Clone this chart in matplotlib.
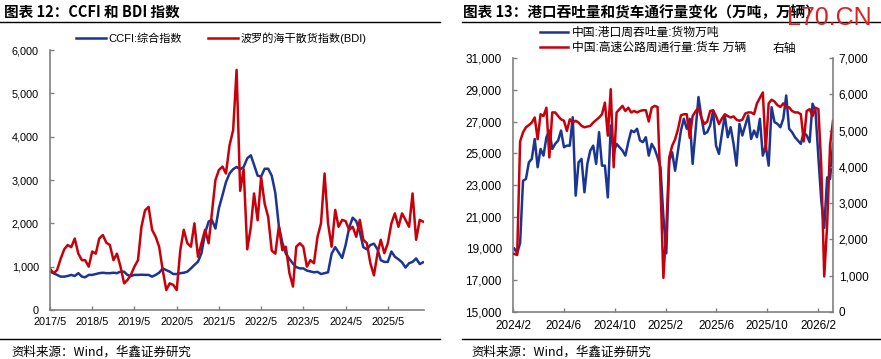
import matplotlib
matplotlib.use("Agg")
import matplotlib.pyplot as plt
import matplotlib.dates as mdates
from matplotlib.lines import Line2D
from matplotlib.ticker import FuncFormatter
import pandas as pd

plt.rcParams['font.family'] = ['Liberation Sans', 'Noto Sans CJK SC', 'DejaVu Sans']
plt.rcParams['axes.unicode_minus'] = False

BLUE = '#1b3593'
RED = '#c8000b'
GRAY = '#808080'

# ---- chart 12: CCFI / BDI, monthly 2017/5 - 2026/3
ccfi = [885, 850, 810, 770, 770, 785, 810, 785,
        850, 770, 755, 810, 810, 830, 850, 860, 850, 850, 860, 850,
        885, 885, 810, 785, 810, 810, 815, 810, 810, 770, 810, 860,
        960, 920, 885, 830, 830, 850, 860, 885, 960, 1040, 1115, 1310,
        1770, 2040, 2080, 1880, 2350, 2650, 2950, 3150, 3250, 3300, 3250, 3300,
        3500, 3570, 3350, 3100, 3080, 3260, 3260, 3100, 2700, 1950, 1550, 1300,
        1180, 1070, 990, 960, 960, 910, 890, 870, 880, 830, 850, 870,
        1300, 1450, 1330, 1200, 1500, 1900, 2130, 2050, 1800, 1450, 1400, 1500,
        1530, 1400, 1150, 1110, 1110, 1350, 1230, 1170, 1100, 980, 1080, 1110,
        1190, 1060, 1100]
bdi = [950, 850, 920, 1180, 1400, 1500, 1450, 1650,
       1300, 1150, 1150, 1000, 1350, 1300, 1650, 1730, 1550, 1500, 1150, 1300,
       1000, 615, 690, 810, 1000, 1150, 1920, 2300, 2380, 1850, 1690, 1460,
       920, 460, 615, 580, 460, 1380, 1850, 1540, 1460, 2000, 1230, 1540,
       1850, 1540, 2230, 3000, 3230, 3310, 3150, 3800, 4150, 5540, 2750, 3250,
       1400, 1910, 2690, 2070, 3070, 2450, 2150, 1370, 1300, 1920, 1380, 1460,
       850, 540, 1460, 1540, 1460, 1000, 1150, 1080, 1690, 2000, 3150, 2000,
       1460, 2310, 1920, 2080, 2050, 1850, 1920, 1690, 2080, 1620, 1540, 1080,
       800, 1310, 1620, 1310, 1540, 2000, 2230, 1920, 2230, 2080, 1920, 2690,
       1620, 2080, 2040]
left_start = '2017-05-01'
left_ticks = ['2017-05-01', '2018-05-01', '2019-05-01', '2020-05-01', '2021-05-01',
              '2022-05-01', '2023-05-01', '2024-05-01', '2025-05-01']
left_ticklabels = ['2017/5', '2018/5', '2019/5', '2020/5', '2021/5',
                   '2022/5', '2023/5', '2024/5', '2025/5']

# ---- chart 13: weekly port throughput (left axis) and truck traffic (right axis)
port = [19000, 18700, 19350, 23270, 23380, 24430, 24640, 25900, 24120, 25270,
        24850, 26010, 26430, 25270, 25590, 25800, 26430, 25380, 25480, 25480,
        27270, 22330, 24430, 24640, 22540, 24330, 25170, 25480, 24330, 26330,
        24220, 24220, 22220, 26750, 25060, 25590, 25380, 25170, 24850, 25700,
        26430, 26330, 26540, 25800, 25700, 26010, 24850, 25590, 25270, 24750,
        24120, 21000, 18700, 24540, 25060, 23900, 25170, 26430, 27170, 26540,
        27170, 24330, 26430, 28540, 27270, 26220, 26330, 26750, 27690, 25480,
        24960, 26220, 27380, 26010, 26640, 25590, 24220, 26850, 26120, 26750,
        27380, 25900, 26430, 26010, 27170, 24850, 25480, 24220, 27900, 26960,
        26850, 26640, 27170, 28640, 26540, 26330, 26010, 25800, 25590, 26330,
        26120, 25700, 28120, 27690, 24750, 22000, 20300, 23480, 23380, 25590]
trucks = [1600, 1570, 4700, 4950, 5090, 5150, 5220, 5360, 4760, 5450,
          5400, 5630, 4260, 5500, 5500, 5400, 5310, 5270, 4990, 5310,
          5220, 5270, 5220, 5130, 5090, 5110, 5130, 5220, 5290, 5360,
          5450, 5770, 4860, 6140, 3990, 5500, 5590, 5680, 5540, 5630,
          5500, 5540, 5500, 5540, 5560, 5560, 5250, 5630, 5680, 5650,
          3500, 940, 2300, 4260, 4580, 4760, 5040, 5420, 5450, 5450,
          4800, 5400, 5530, 5630, 5350, 5180, 5250, 5540, 5560, 5400,
          5180, 5330, 5450, 5400, 5360, 5390, 5300, 5270, 5300, 5470,
          5500, 5500, 5450, 5750, 5900, 6050, 4450, 5750, 5850, 5800,
          5700, 5650, 5750, 5640, 5640, 5540, 5500, 5500, 5450, 4700,
          5540, 5590, 5400, 5630, 5590, 4000, 980, 2400, 4600, 5270]
right_start = '2024-02-04'
right_ticks = ['2024-02-01', '2024-06-01', '2024-10-01', '2025-02-01',
               '2025-06-01', '2025-10-01', '2026-02-01']
right_ticklabels = ['2024/2', '2024/6', '2024/10', '2025/2', '2025/6', '2025/10', '2026/2']

W, H = 881, 359
fig = plt.figure(figsize=(W / 100, H / 100), dpi=100)


def fx(px):
    return px / W


def fy(py):
    return 1 - py / H


thousands = FuncFormatter(lambda v, p: f'{v:,.0f}')


def style_axis(ax, sides, size):
    for s in ['top', 'right', 'left', 'bottom']:
        ax.spines[s].set_visible(s in sides)
        ax.spines[s].set_color(GRAY)
        ax.spines[s].set_linewidth(1.2)
    ax.tick_params(direction='in', length=3, color=GRAY, width=1, labelsize=size)


# ---------------- left chart
ax1 = fig.add_axes([fx(50), 1 - 310 / H, fx(374), 260 / H])
d1 = pd.date_range(left_start, periods=len(bdi), freq='MS')
l1, = ax1.plot(d1, ccfi, color=BLUE, lw=1.8, label='CCFI:综合指数')
l2, = ax1.plot(d1, bdi, color=RED, lw=1.8, label='波罗的海干散货指数(BDI)')
ax1.set_ylim(0, 6000)
ax1.set_yticks(range(0, 6001, 1000))
ax1.yaxis.set_major_formatter(thousands)
ax1.set_xlim(pd.Timestamp(left_start), pd.Timestamp('2026-03-10'))
ax1.set_xticks(pd.to_datetime(left_ticks))
ax1.set_xticklabels(left_ticklabels)
style_axis(ax1, ['left', 'bottom'], 7.8)
ax1.tick_params(axis='y', pad=8)
ax1.tick_params(axis='x', pad=5)
ax1.legend(handles=[l1, l2], loc='center left', bbox_to_anchor=(fx(76), fy(38)),
           bbox_transform=fig.transFigure, ncol=2, frameon=False, fontsize=8,
           handlelength=2.7, handletextpad=0.2, columnspacing=2.4,
           borderpad=0, borderaxespad=0)

# ---------------- right chart
ax2 = fig.add_axes([fx(513), 1 - 312 / H, fx(320), 254 / H])
ax2r = ax2.twinx()
d2 = pd.date_range(right_start, periods=len(port), freq='7D')
l3, = ax2.plot(d2, port, color=BLUE, lw=1.8, label='中国:港口周吞吐量:货物万吨')
l4, = ax2r.plot(d2, trucks, color=RED, lw=1.8, label='中国:高速公路周通行量:货车 万辆')
ax2.set_ylim(15000, 31000)
ax2.set_yticks(range(15000, 31001, 2000))
ax2.yaxis.set_major_formatter(thousands)
ax2r.set_ylim(0, 7000)
ax2r.set_yticks(range(0, 7001, 1000))
ax2r.yaxis.set_major_formatter(thousands)
ax2.set_xlim(pd.Timestamp('2024-02-01'), d2[-1])
ax2.set_xticks(pd.to_datetime(right_ticks))
ax2.set_xticklabels(right_ticklabels)
style_axis(ax2, ['left', 'bottom'], 8.5)
style_axis(ax2r, ['right'], 8.5)
ax2.tick_params(axis='y', pad=8)
ax2.tick_params(axis='x', pad=6)
ax2r.tick_params(axis='y', pad=4)
ax2r.legend(handles=[l3, l4], loc='center left', bbox_to_anchor=(fx(540), fy(40.5)),
            bbox_transform=fig.transFigure, ncol=1, frameon=False, fontsize=8.5,
            handlelength=2.4, handletextpad=0.3, labelspacing=0.3,
            borderpad=0, borderaxespad=0)
fig.text(fx(773), fy(49), '右轴', fontsize=8.5, va='center', ha='left')

# ---------------- titles, rules, sources
title_font = ['Noto Sans CJK SC', 'DejaVu Sans']
fig.text(fx(4), fy(12), '图表 12：CCFI 和 BDI 指数', family=title_font,
         fontsize=10.5, weight='bold', va='center')
fig.text(fx(463), fy(12), '图表 13：港口吞吐量和货车通行量变化（万吨，万辆）',
         family=title_font, fontsize=10.5, weight='bold', va='center')
for x0, x1 in [(0, 440), (462, 881)]:
    fig.add_artist(Line2D([fx(x0), fx(x1)], [fy(22), fy(22)], color='black', lw=1))
    fig.add_artist(Line2D([fx(x0), fx(x1)], [fy(339), fy(339)], color='black', lw=1))
fig.text(fx(11), fy(352), '资料来源：Wind，华鑫证券研究', family=title_font,
         fontsize=9, va='center')
fig.text(fx(471), fy(352), '资料来源：Wind，华鑫证券研究', family=title_font,
         fontsize=9, va='center')

fig.text(fx(787), fy(25), 'L70.CN', family=['Liberation Sans'], fontsize=18,
         color='#e02020', va='baseline')

fig.savefig('out.png', dpi=100)
